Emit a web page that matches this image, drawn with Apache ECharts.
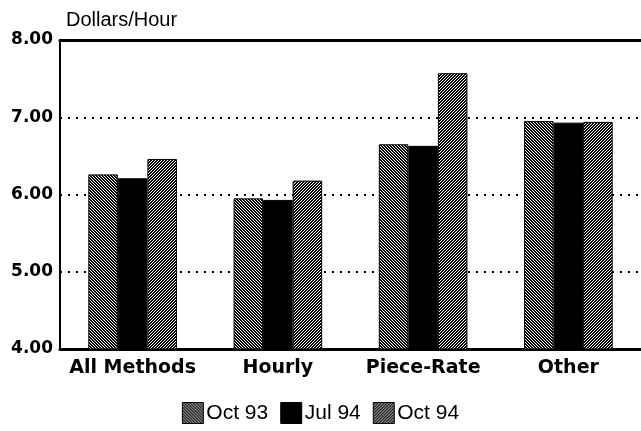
<!DOCTYPE html>
<html>
<head>
<meta charset="utf-8">
<script src="https://cdn.jsdelivr.net/npm/echarts@6/dist/echarts.min.js"></script>
<style>
  html, body { margin: 0; padding: 0; background: #fff; }
  #chart_wage { width: 641px; height: 431px; }
</style>
</head>
<body>
<div id="chart_wage"></div>
<script>
var categories = ['All Methods', 'Hourly', 'Piece-Rate', 'Other'];
var seriesNames = ['Oct 93', 'Jul 94', 'Oct 94'];
var oct93 = [6.26, 5.95, 6.65, 6.95];
var jul94 = [6.21, 5.93, 6.63, 6.93];
var oct94 = [6.46, 6.18, 7.57, 6.94];

// hatch fill: black with thin white diagonals
function hatch(dir) {
    var c = document.createElement('canvas');
    c.width = 12;
    c.height = 12;
    var ctx = c.getContext('2d');
    ctx.fillStyle = '#000';
    ctx.fillRect(0, 0, 12, 12);
    ctx.fillStyle = '#fff';
    for (var x = 0; x < 12; x++) {
        for (var y = 0; y < 12; y++) {
            var k = dir > 0 ? (x + y) : (x - y + 12);
            if (k % 3 === 0) ctx.fillRect(x, y, 1, 1);
        }
    }
    return {image: c, repeat: 'repeat'};
}

var fills = [hatch(-1), '#000', hatch(1)];
var values = [oct93, jul94, oct94];

var chart_wage = echarts.init(document.getElementById('chart_wage'));
chart_wage.setOption(option = {
    animation: false,
    title: {
        text: 'Dollars/Hour',
        left: 61,
        top: 5,
        textStyle: {
            fontFamily: 'Liberation Sans',
            fontSize: 20,
            fontWeight: 'normal',
            color: '#000'
        }
    },
    legend: {
        bottom: 2,
        left: 'center',
        icon: 'rect',
        itemWidth: 21,
        itemHeight: 21,
        itemGap: 12,
        data: seriesNames,
        itemStyle: {borderColor: '#000', borderWidth: 1},
        textStyle: {
            fontFamily: 'Liberation Sans',
            fontSize: 21,
            color: '#000',
            padding: [0, 0, 0, -2]
        }
    },
    grid: {
        left: 60,
        top: 40,
        bottom: 82,
        width: 588
    },
    xAxis: [
        {
            type: 'category',
            data: categories,
            axisLine: {lineStyle: {color: '#000', width: 3}},
            axisTick: {show: false},
            axisLabel: {
                interval: 0,
                margin: 10,
                fontFamily: 'DejaVu Sans',
                fontWeight: 'bold',
                fontSize: 19,
                color: '#000'
            }
        },
        {
            type: 'category',
            position: 'top',
            data: categories,
            axisLine: {lineStyle: {color: '#000', width: 3}},
            axisTick: {show: false},
            axisLabel: {show: false}
        }
    ],
    yAxis: {
        type: 'value',
        min: 4,
        max: 8,
        interval: 1,
        axisLine: {show: true, lineStyle: {color: '#000', width: 2}},
        axisTick: {show: false},
        axisLabel: {
            margin: 7,
            formatter: function (v) { return v.toFixed(2); },
            fontFamily: 'DejaVu Sans',
            fontWeight: 'bold',
            fontSize: 17,
            color: '#000'
        },
        splitLine: {
            lineStyle: {color: '#000', width: 2, type: [2, 6]}
        }
    },
    series: seriesNames.map(function (name, i) {
        return {
            name: name,
            type: 'bar',
            data: values[i],
            barGap: '0%',
            barCategoryGap: '39%',
            itemStyle: {
                color: fills[i],
                borderColor: '#000',
                borderWidth: 1
            }
        };
    })
});
</script>
</body>
</html>
